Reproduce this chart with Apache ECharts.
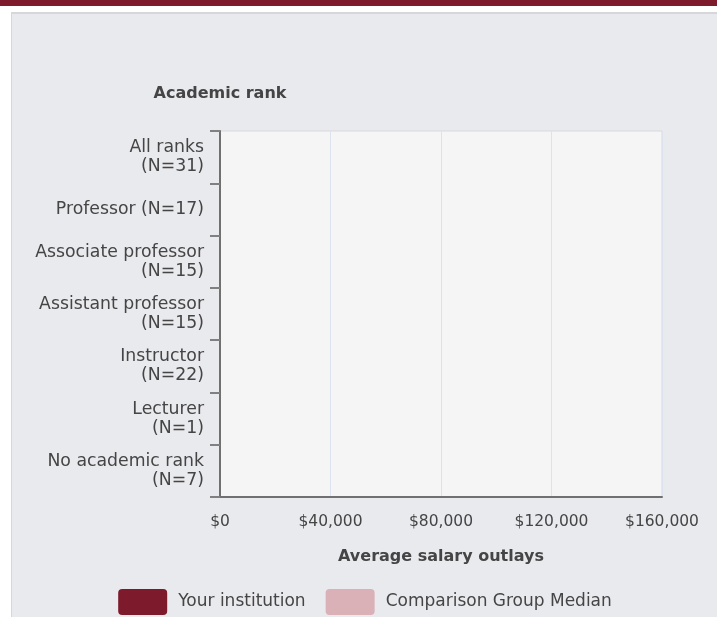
<!DOCTYPE html>
<html>
<head>
<meta charset="utf-8">
<script src="https://cdn.jsdelivr.net/npm/echarts@6/dist/echarts.min.js"></script>
<style>
  html, body { margin: 0; padding: 0; background: #ffffff; width: 717px; height: 617px; overflow: hidden; }
  .topbar { position: absolute; left: 0; top: 0; width: 717px; height: 6px; background: #7d1a2b; }
  .panel { position: absolute; left: 11px; top: 12px; width: 706px; height: 605px;
           background: #e9eaee; border-top: 2px solid #d6d7da; border-left: 1px solid #d6d7da; }
  #chart { position: absolute; left: 0; top: 0; width: 706px; height: 603px; }
</style>
</head>
<body>
<div class="topbar"></div>
<div class="panel"><div id="chart"></div></div>
<script>
// categories, top to bottom
const ranks = [
  'All ranks\n(N=31)',
  'Professor (N=17)',
  'Associate professor\n(N=15)',
  'Assistant professor\n(N=15)',
  'Instructor\n(N=22)',
  'Lecturer\n(N=1)',
  'No academic rank\n(N=7)'
]
// no bars are drawn in the picture
const yourInstitution = [null, null, null, null, null, null, null]
const comparisonMedian = [null, null, null, null, null, null, null]
const salaryTicks = [0, 40000, 80000, 120000, 160000]

const fontFamily = 'DejaVu Sans'
const textColor = '#454545'

// rounded box for the legend keys
const keyIcon = 'path://M4,0 H45 Q49,0 49,4 V22 Q49,26 45,26 H4 Q0,26 0,22 V4 Q0,0 4,0 Z'

const chart = echarts.init(document.getElementById('chart'))

const option = {
  animation: false,
  backgroundColor: 'transparent',
  textStyle: { fontFamily: fontFamily },
  grid: {
    left: 208,
    top: 117,
    right: 56,
    bottom: 120,
    show: true,
    backgroundColor: '#f5f5f5',
    borderColor: '#d8d9dc',
    borderWidth: 1
  },
  legend: {
    left: 'center',
    top: 570,
    itemWidth: 49,
    itemHeight: 26,
    itemGap: 20,
    icon: keyIcon,
    textStyle: { color: textColor, fontSize: 17, fontFamily: fontFamily, padding: [0, 0, 0, 6] },
    data: ['Your institution', 'Comparison Group Median']
  },
  xAxis: {
    type: 'value',
    min: salaryTicks[0],
    max: salaryTicks[salaryTicks.length - 1],
    interval: salaryTicks[1] - salaryTicks[0],
    name: 'Average salary outlays',
    nameLocation: 'middle',
    nameGap: 52,
    nameTextStyle: { color: textColor, fontSize: 16, fontWeight: 'bold', fontFamily: fontFamily },
    axisLine: { show: true, lineStyle: { color: '#707070', width: 2 } },
    axisTick: { show: false },
    axisLabel: {
      color: textColor,
      fontSize: 15.5,
      margin: 17,
      formatter: (v) => '$' + v.toLocaleString('en-US')
    },
    splitLine: { show: true, lineStyle: { color: '#dde3ee', width: 1 } }
  },
  yAxis: {
    type: 'category',
    inverse: true,
    data: ranks,
    name: 'Academic rank',
    nameLocation: 'start',
    nameGap: 29,
    nameTextStyle: { color: textColor, fontSize: 16, fontWeight: 'bold', fontFamily: fontFamily },
    axisLine: { show: true, lineStyle: { color: '#707070', width: 2 } },
    axisTick: { show: true, length: 10, lineStyle: { color: '#808080', width: 2 } },
    axisLabel: {
      color: textColor,
      fontSize: 17.3,
      lineHeight: 19,
      margin: 16,
      interval: 0,
      align: 'right'
    },
    splitLine: { show: false }
  },
  series: [
    {
      name: 'Your institution',
      type: 'bar',
      data: yourInstitution,
      itemStyle: { color: '#7d1a2b' }
    },
    {
      name: 'Comparison Group Median',
      type: 'bar',
      data: comparisonMedian,
      itemStyle: { color: '#d9b1b7' }
    }
  ]
}

chart.setOption(option)
</script>
</body>
</html>
